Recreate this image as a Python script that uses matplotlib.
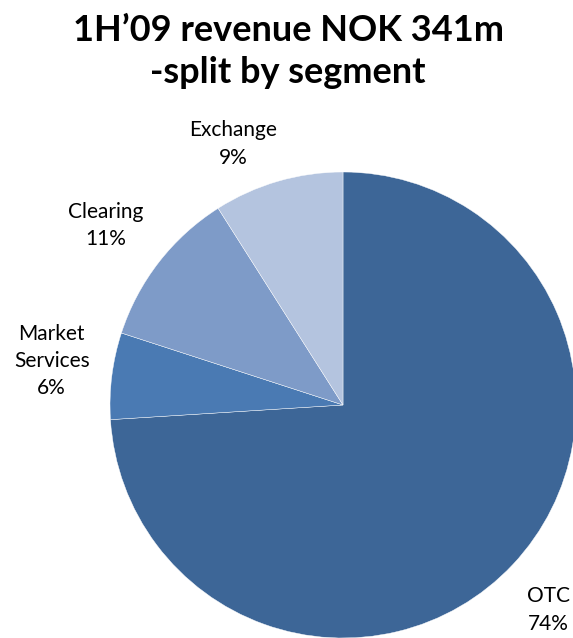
import matplotlib.pyplot as plt

# revenue split by segment, 1H'09 (NOK 341m)
segments = ['OTC', 'Market Services', 'Clearing', 'Exchange']
shares = [74, 6, 11, 9]
colors = ['#3D6697', '#4A7AB3', '#7E9BC8', '#B4C4DF']

plt.rcParams['font.family'] = ['Lato', 'DejaVu Sans']

fig = plt.figure(figsize=(5.73, 6.38), dpi=100)
# pie axes: radius 233 px, centre at (343, 405) px
ax = fig.add_axes([110 / 573, 0, 466 / 573, 466 / 638])
ax.pie(shares, colors=colors, startangle=90, counterclock=False,
       radius=1, wedgeprops=dict(edgecolor='white', linewidth=0.3))
ax.set_xlim(-1, 1)
ax.set_ylim(-1, 1)
ax.set_aspect('equal')
ax.axis('off')

# label positions in pie coordinates
label_pos = {
    'OTC': (0.88, -0.88),
    'Market Services': (-1.25, 0.19),
    'Clearing': (-1.02, 0.77),
    'Exchange': (-0.47, 1.12),
}
for name, val in zip(segments, shares):
    x, y = label_pos[name]
    text = name.replace(' ', '\n') + '\n' + str(val) + '%'
    ax.text(x, y, text, ha='center', va='center', fontsize=15,
            linespacing=1.45, clip_on=False)

fig.text(0.503, 0.978, "1H\u201909 revenue NOK 341m\n-split by segment",
         ha='center', va='top', fontsize=26, fontweight='bold',
         linespacing=1.35)

fig.savefig('out.png', dpi=100)
